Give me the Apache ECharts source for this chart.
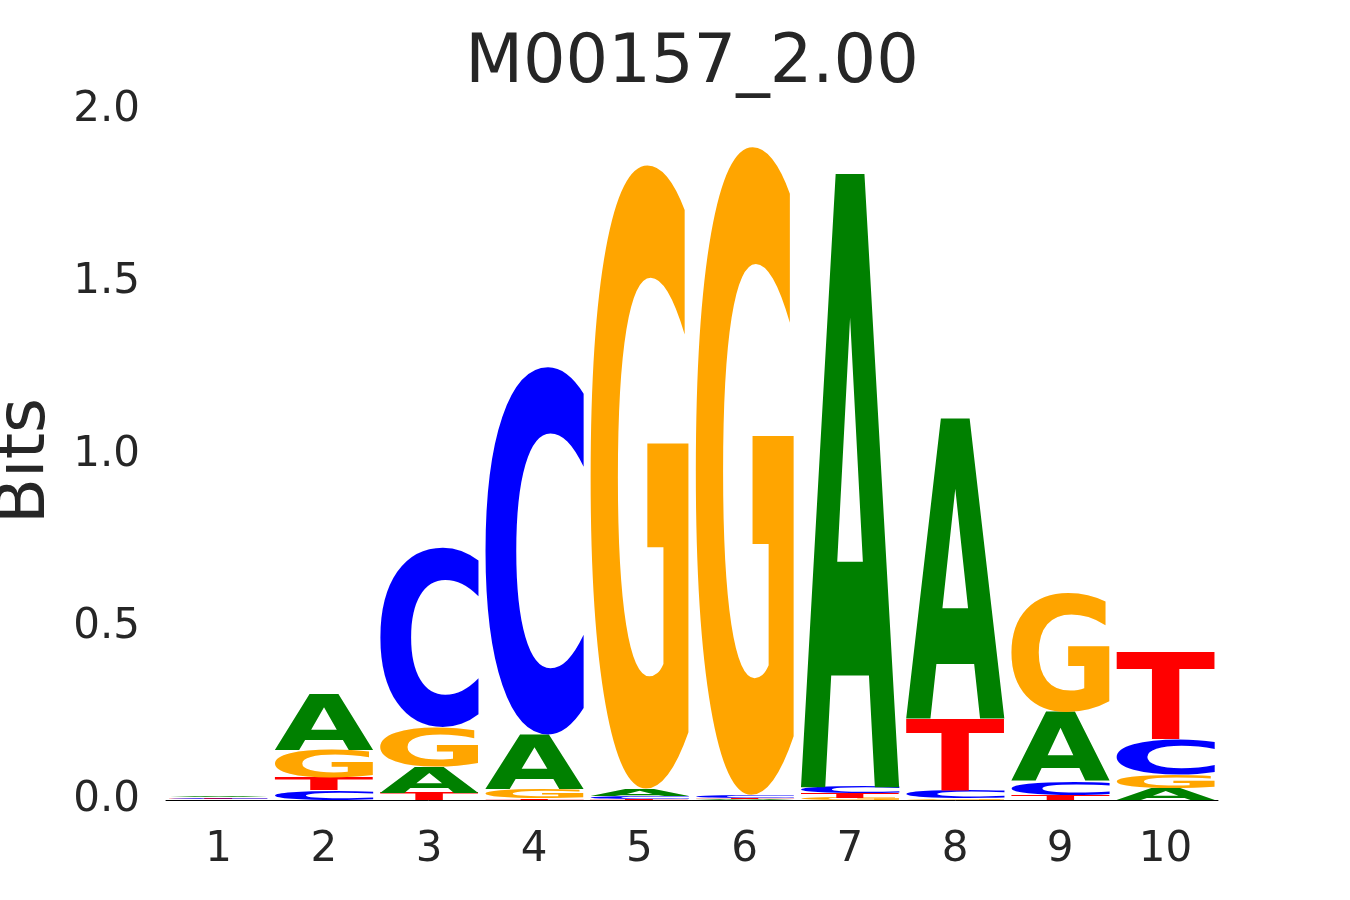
<!DOCTYPE html>
<html>
<head>
<meta charset="utf-8">
<script src="https://cdn.jsdelivr.net/npm/echarts@6/dist/echarts.min.js"></script>
<style>
html,body{margin:0;padding:0;background:#ffffff;}
#chart{width:1350px;height:900px;}
</style>
</head>
<body>
<div id="chart"></div>
<script>
// ---- data ----
const titleText = 'M00157_2.00';
const yAxisTitle = 'Bits';
const positions = ['1', '2', '3', '4', '5', '6', '7', '8', '9', '10'];
const letters = ['A', 'C', 'G', 'T'];
const letterColors = ['#008000', '#0000ff', '#ffa500', '#ff0000'];
// information (bits) carried by each base at each position
const bitsA = [0.0045, 0.161, 0.075, 0.157, 0.020, 0.002, 1.780, 0.871, 0.200, 0.035];
const bitsC = [0.0040, 0.028, 0.523, 1.069, 0.009, 0.006, 0.018, 0.022, 0.040, 0.103];
const bitsG = [0.0015, 0.081, 0.114, 0.027, 1.815, 1.886, 0.006, 0.004, 0.345, 0.037];
const bitsT = [0.0020, 0.036, 0.021, 0.005, 0.002, 0.005, 0.013, 0.210, 0.014, 0.254];
const yTicks = [0, 0.5, 1.0, 1.5, 2.0];

// ---- build stacked letter boxes (smallest at bottom) ----
const bitsByLetter = [bitsA, bitsC, bitsG, bitsT];
const boxes = [];
positions.forEach(function (p, i) {
  const items = letters.map(function (l, li) { return { li: li, v: bitsByLetter[li][i] }; });
  items.sort(function (a, b) { return a.v - b.v; });
  let cum = 0;
  items.forEach(function (it) {
    boxes.push([i, cum, cum + it.v, it.li]);
    cum += it.v;
  });
});

// ---- glyph ink metrics ----
const FONT_FAMILY = '"DejaVu Sans"';
const BASE = 200;
const GLYPH_FONT = 'bold ' + BASE + 'px ' + FONT_FAMILY;
const mctx = document.createElement('canvas').getContext('2d');
mctx.font = GLYPH_FONT;
mctx.textBaseline = 'middle';
mctx.textAlign = 'left';
const metrics = {};
letters.forEach(function (ch) {
  const m = mctx.measureText(ch);
  metrics[ch] = {
    l: m.actualBoundingBoxLeft, r: m.actualBoundingBoxRight,
    a: m.actualBoundingBoxAscent, d: m.actualBoundingBoxDescent
  };
});

const GLYPH_WIDTH = 0.94;

function renderLetter(params, api) {
  const xi = api.value(0);
  const y0 = api.value(1);
  const y1 = api.value(2);
  const li = api.value(3);
  const ch = letters[li];
  const pBot = api.coord([xi, y0]);
  const pTop = api.coord([xi, y1]);
  const bw = api.size([1, 0])[0] * GLYPH_WIDTH;
  const h = pBot[1] - pTop[1];
  if (!(h > 0.05)) return null;
  const m = metrics[ch];
  const sx = bw / (m.l + m.r);
  const sy = h / (m.a + m.d);
  const x0 = pBot[0] - bw / 2;
  return {
    type: 'text',
    x: x0 + m.l * sx,
    y: pTop[1] + m.a * sy,
    scaleX: sx,
    scaleY: sy,
    style: {
      text: ch,
      font: GLYPH_FONT,
      textFont: GLYPH_FONT,
      fill: letterColors[li],
      textFill: letterColors[li],
      align: 'left',
      textAlign: 'left',
      verticalAlign: 'middle',
      textVerticalAlign: 'middle'
    }
  };
}

const chart = echarts.init(document.getElementById('chart'), null, { renderer: 'canvas' });
chart.setOption({
  backgroundColor: '#ffffff',
  animation: false,
  title: {
    text: titleText,
    left: 692,
    top: 31,
    padding: 0,
    textAlign: 'center',
    textStyle: { fontFamily: 'DejaVu Sans', fontSize: 67, fontWeight: 'normal', color: '#262626' }
  },
  grid: { left: 166, right: 132, top: 110, bottom: 100, containLabel: false, outerBoundsMode: 'none' },
  xAxis: {
    type: 'category',
    data: positions,
    boundaryGap: true,
    axisLine: { show: true, lineStyle: { color: '#000000', width: 1 } },
    axisTick: { show: false },
    splitLine: { show: false },
    axisLabel: { margin: 29, fontFamily: 'DejaVu Sans', fontSize: 42, color: '#262626', interval: 0 }
  },
  yAxis: {
    type: 'value',
    min: yTicks[0],
    max: yTicks[yTicks.length - 1],
    interval: 0.5,
    name: yAxisTitle,
    nameLocation: 'middle',
    nameRotate: 90,
    nameGap: 106,
    nameTextStyle: { fontFamily: 'DejaVu Sans', fontSize: 67, color: '#262626', padding: [0, 12, 0, 0] },
    axisLine: { show: false },
    axisTick: { show: false },
    splitLine: { show: false },
    axisLabel: {
      margin: 26, fontFamily: 'DejaVu Sans', fontSize: 42, color: '#262626', padding: [7, 0, 0, 0],
      formatter: function (v) { return v.toFixed(1); }
    }
  },
  series: [{
    type: 'custom',
    renderItem: renderLetter,
    encode: { x: 0, y: [1, 2] },
    data: boxes,
    clip: false
  }]
});
</script>
</body>
</html>
